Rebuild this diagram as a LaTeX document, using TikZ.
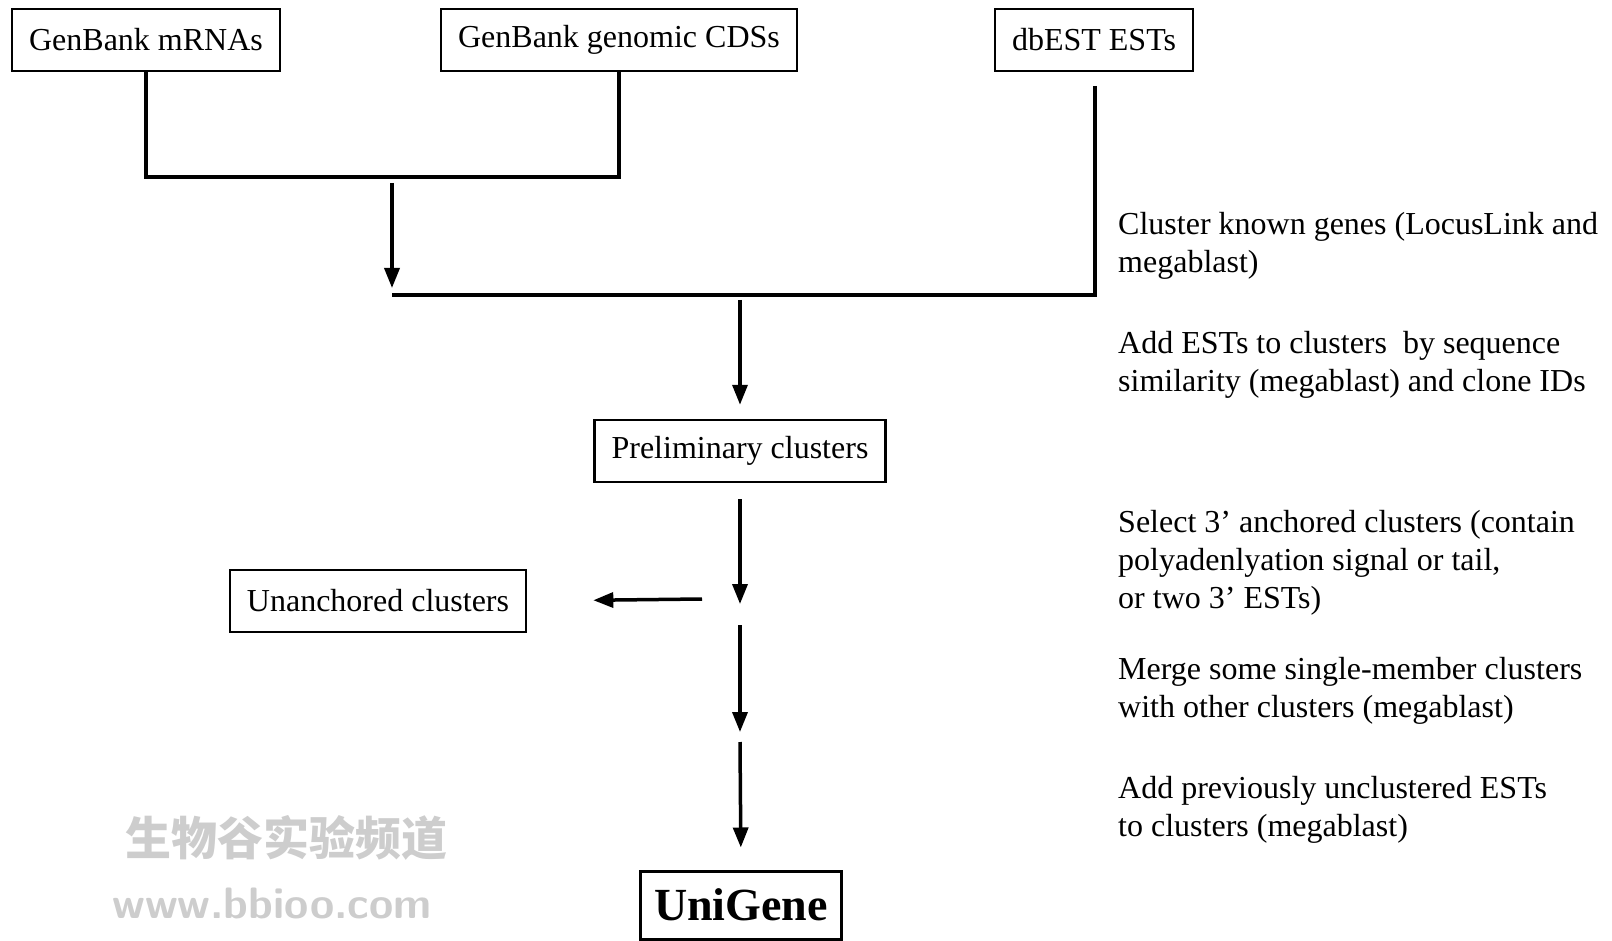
\documentclass[tikz,border=0pt]{standalone}
\usepackage{fontspec}
\setmainfont{Liberation Serif}
\newfontfamily\cjkmark{Noto Sans CJK SC}
\usetikzlibrary{arrows.meta}
\definecolor{markgray}{RGB}{205,205,205}

\tikzset{
  srcbox/.style={draw, line width=2.5pt, inner xsep=17pt, minimum height=62pt,
    font=\fontsize{32}{38}\selectfont},
  conn/.style={line width=3.5pt},
  flow/.style={line width=3.5pt, -{Triangle[length=20pt,width=15pt]}},
  stepnote/.style={anchor=base west, align=left, inner sep=0pt,
    font=\fontsize{32}{38}\selectfont},
}

\begin{document}
\begin{tikzpicture}[x=1pt, y=-1pt]
  \useasboundingbox (0,0) rectangle (1612,941);

  % Source boxes
  \node[srcbox] (mrna)  at (146,40)  {GenBank mRNAs};
  \node[srcbox] (cds)   at (619,40)  {GenBank genomic CDSs};
  \node[srcbox] (dbest) at (1094,40) {dbEST ESTs};

  % Middle and result boxes
  \node[srcbox] (prelim) at (740,451) {Preliminary clusters};
  \node[srcbox] (unanch) at (378,601) {Unanchored clusters};
  \node[srcbox, line width=3pt, inner xsep=14pt, minimum height=68pt,
    font=\bfseries\fontsize{46}{50}\selectfont] (unigene) at (741,905) {UniGene};

  % Free ends of the connectors
  \coordinate (cdsjoin) at (392,177);
  \coordinate (mergetop) at (392,183);
  \coordinate (mergeleft) at (392,295);
  \coordinate (dbestfoot) at (1095,86);
  \coordinate (mergemid) at (740,300);
  \coordinate (selpt) at (740,604);
  \coordinate (splitpt) at (702,599);
  \coordinate (mergept) at (740,625);
  \coordinate (mergeend) at (740,732);
  \coordinate (addpt) at (740,742);

  % Connectors
  \draw[conn] (mrna.south) |- (cdsjoin) -| (cds.south);
  \draw[flow] (mergetop) -- ([yshift=7pt]mergeleft);
  \draw[conn] (dbestfoot) |- (mergeleft);
  \draw[flow, shorten >=14pt] (mergemid) -- (prelim.north);
  \draw[flow, shorten <=16pt] (prelim.south) -- (selpt);
  \draw[flow, shorten >=66pt] (splitpt) -- (unanch.east);
  \draw[flow] (mergept) -- (mergeend);
  \draw[flow, shorten >=22pt] (addpt) -- (unigene.north);

  % Step notes (placed at the baseline of the last line)
  \node[stepnote] (n1) at (1118,273) {Cluster known genes (LocusLink and\\megablast)};
  \node[stepnote] (n2) at (1118,391) {Add ESTs to clusters~ by sequence\\similarity (megablast) and clone IDs};
  \node[stepnote] (n3) at (1118,608) {Select 3' anchored clusters (contain\\polyadenlyation signal or tail,\\or two 3' ESTs)};
  \node[stepnote] (n4) at (1118,717) {Merge some single-member clusters\\with other clusters (megablast)};
  \node[stepnote] (n5) at (1118,836) {Add previously unclustered ESTs\\to clusters (megablast)};

  % Watermark
  \node[markgray, font=\cjkmark\bfseries\fontsize{46}{46}\selectfont] (wmcn) at (286,838) {生物谷实验频道};
  \node[markgray, font=\sffamily\bfseries\fontsize{44}{44}\selectfont] (wmurl) at (272,903) {www.bbioo.com};
\end{tikzpicture}
\end{document}
